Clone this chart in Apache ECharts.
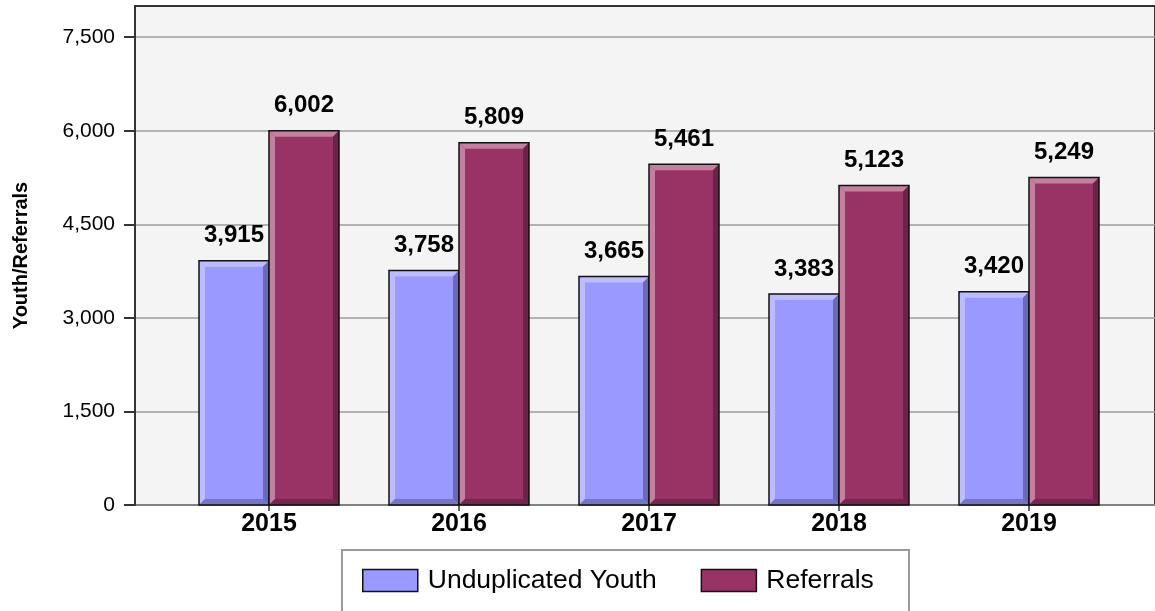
<!DOCTYPE html>
<html>
<head>
<meta charset="utf-8">
<script src="https://cdn.jsdelivr.net/npm/echarts@6/dist/echarts.min.js"></script>
<style>
html,body{margin:0;padding:0;background:#fff;}
#chart{width:1155px;height:611px;}
</style>
</head>
<body>
<div id="chart"></div>
<script>
var years = ['2015', '2016', '2017', '2018', '2019'];
var youth = [3915, 3758, 3665, 3383, 3420];
var referrals = [6002, 5809, 5461, 5123, 5249];
var yTicks = [0, 1500, 3000, 4500, 6000, 7500];
var seriesNames = ['Unduplicated Youth', 'Referrals'];

var FONT = '"Liberation Sans", Arial, sans-serif';
var palettes = [
  { main: '#9999ff', light: '#bcbcff', dark: '#6a6ab8', bottom: '#7575c4' },
  { main: '#993366', light: '#c3809f', dark: '#6b2347', bottom: '#722650' }
];

function fmt(v) { return v.toLocaleString('en-US'); }

function makeRender(idx) {
  var p = palettes[idx];
  return function (params, api) {
    var cat = api.value(0), val = api.value(1);
    var top = api.coord([cat, val]);
    var base = api.coord([cat, 0]);
    var band = api.size([1, 0])[0];
    var w = band * 70 / 190;
    var x0 = idx === 0 ? top[0] - w : top[0];
    var x1 = x0 + w, y0 = top[1], y1 = base[1];
    var b = 6;
    return {
      type: 'group',
      children: [
        { type: 'rect', shape: { x: x0, y: y0, width: w, height: y1 - y0 }, style: { fill: p.main } },
        { type: 'polygon', shape: { points: [[x0, y0], [x1, y0], [x1 - b, y0 + b], [x0 + b, y0 + b]] }, style: { fill: p.light } },
        { type: 'polygon', shape: { points: [[x0, y0], [x0 + b, y0 + b], [x0 + b, y1 - b], [x0, y1]] }, style: { fill: p.light } },
        { type: 'polygon', shape: { points: [[x1, y0], [x1, y1], [x1 - b, y1 - b], [x1 - b, y0 + b]] }, style: { fill: p.dark } },
        { type: 'polygon', shape: { points: [[x0, y1], [x1, y1], [x1 - b, y1 - b], [x0 + b, y1 - b]] }, style: { fill: p.bottom } },
        { type: 'rect', shape: { x: x0, y: y0, width: w, height: y1 - y0 }, style: { fill: 'none', stroke: '#111', lineWidth: 1.5 } },
        { type: 'text', x: (x0 + x1) / 2, y: y0 - 13, style: { text: fmt(val), textAlign: 'center', textVerticalAlign: 'bottom', font: 'bold 24px ' + FONT, fill: '#000' } }
      ]
    };
  };
}

var chart = echarts.init(document.getElementById('chart'));
chart.setOption({
  animation: false,
  backgroundColor: '#ffffff',
  textStyle: { fontFamily: FONT },
  graphic: [
    { type: 'rect', left: 341, top: 549, shape: { width: 567, height: 80 }, style: { fill: '#ffffff', stroke: '#9a9a9a', lineWidth: 2 }, z: 0 }
  ],
  legend: {
    left: 362,
    top: 567,
    padding: 0,
    itemWidth: 55,
    itemHeight: 22,
    itemGap: 44,
    icon: 'rect',
    textStyle: { fontSize: 26.5, lineHeight: 26, color: '#000', fontFamily: FONT, padding: [0, 0, 0, 5] },
    data: [
      { name: seriesNames[0], itemStyle: { color: palettes[0].main, borderColor: '#111', borderWidth: 1.5 } },
      { name: seriesNames[1], itemStyle: { color: palettes[1].main, borderColor: '#111', borderWidth: 1.5 } }
    ]
  },
  grid: [
    { left: 135, right: -3, top: 6, bottom: 106, show: true, backgroundColor: '#f4f4f4', borderColor: '#333', borderWidth: 2, containLabel: false },
    { left: 174, right: 31, top: 6, bottom: 106, show: false, containLabel: false }
  ],
  xAxis: [
    { gridIndex: 0, type: 'value', show: false, min: 0, max: 1 },
    {
      gridIndex: 1, type: 'category', data: years,
      axisLine: { show: false },
      axisTick: { show: true, alignWithLabel: true, length: 6, lineStyle: { color: '#333', width: 1.5 } },
      axisLabel: { fontSize: 25, fontWeight: 'bold', color: '#000', margin: 7, fontFamily: FONT },
      splitLine: { show: false }
    }
  ],
  yAxis: [
    {
      gridIndex: 0, type: 'value', min: 0, max: 8000, interval: 1500,
      name: 'Youth/Referrals', nameLocation: 'middle', nameGap: 104, nameRotate: 90,
      nameTextStyle: { fontSize: 20, fontWeight: 'bold', color: '#000', fontFamily: FONT },
      axisLine: { show: true, lineStyle: { color: '#333', width: 2 } },
      axisTick: { show: true, length: 11, customValues: yTicks, lineStyle: { color: '#333', width: 2 } },
      axisLabel: { fontSize: 21, color: '#000', margin: 20, customValues: yTicks, formatter: function (v) { return fmt(v); }, fontFamily: FONT },
      splitLine: { show: true, lineStyle: { color: '#9c9c9c', width: 1.5 } }
    },
    { gridIndex: 1, type: 'value', min: 0, max: 8000, show: false }
  ],
  series: [
    {
      name: seriesNames[0], type: 'custom', xAxisIndex: 1, yAxisIndex: 1,
      itemStyle: { color: palettes[0].main, borderColor: '#111', borderWidth: 1.5 },
      encode: { x: 0, y: 1 },
      data: youth.map(function (v, i) { return [i, v]; }),
      renderItem: makeRender(0)
    },
    {
      name: seriesNames[1], type: 'custom', xAxisIndex: 1, yAxisIndex: 1,
      itemStyle: { color: palettes[1].main, borderColor: '#111', borderWidth: 1.5 },
      encode: { x: 0, y: 1 },
      data: referrals.map(function (v, i) { return [i, v]; }),
      renderItem: makeRender(1)
    }
  ]
});
</script>
</body>
</html>
